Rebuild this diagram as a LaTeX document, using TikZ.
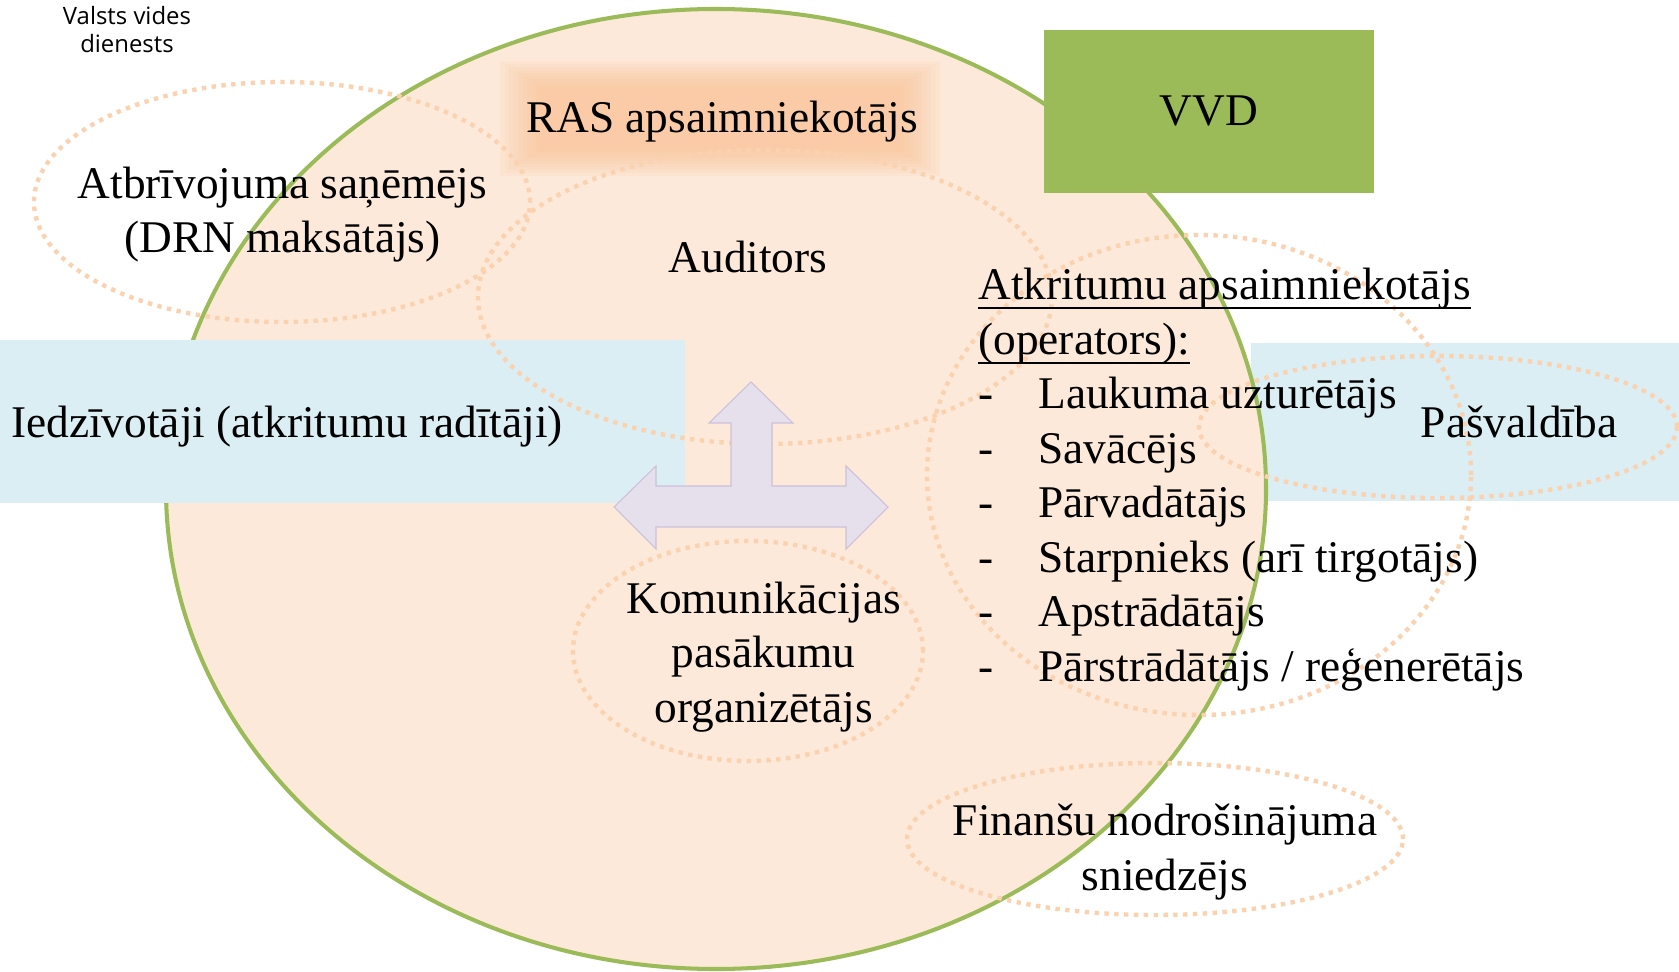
\documentclass[tikz,border=0pt]{standalone}
\usepackage{fontspec}
\setmainfont{Liberation Serif}
\newfontfamily\notefont{Open Sans}
\definecolor{peach}{HTML}{FDE9D9}
\definecolor{leafgreen}{HTML}{9BBB59}
\definecolor{paleblue}{HTML}{DAEEF3}
\definecolor{dotorange}{HTML}{FBD2B0}
\definecolor{glow}{HTML}{FAC090}
\definecolor{lilac}{HTML}{E5E0EC}
\definecolor{lilacline}{HTML}{CCC1DA}
\tikzset{
  oval/.style={draw=dotorange, line width=2.5pt, dash pattern=on 2.5pt off 3.1pt},
  lbl/.style={font=\fontsize{25.8}{31}\selectfont, inner sep=0pt, anchor=base},
  band/.style={fill=paleblue, draw=none},
}
\newsavebox\ulbox
\newcommand{\undl}[1]{\sbox\ulbox{#1}\rlap{\rule[-0.2em]{\wd\ulbox}{0.045em}}\usebox\ulbox}
\begin{document}
\begin{tikzpicture}
            \useasboundingbox (0, 0) rectangle (33.58, 19.42);
            %fasce e aplis
            \fill[band] (25.02, 9.40) rectangle (33.58, 12.56);
            \draw[fill=peach, draw=leafgreen, line width=2.3pt] (14.32, 9.64) ellipse [x radius=11.0, y radius=9.6];
            \fill[band] (0, 9.36) rectangle (13.7, 12.62);
            \node[fill=leafgreen, minimum width=6.6cm, minimum height=3.26cm, font=\fontsize{25.8}{31}\selectfont] (vvd) at (24.18, 17.19) {VVD};
            \foreach \d in {0,1,...,9}
              \fill[glow, opacity=0.1] (10.0+\d*0.09, 15.9+\d*0.06) rectangle (18.8-\d*0.09, 18.2-\d*0.06);
            %ovali
            \draw[oval] (5.64, 15.38) ellipse [x radius=4.96, y radius=2.4];
            \draw[oval] (15.3, 13.48) ellipse [x radius=5.74, y radius=2.94];
            \draw[oval] (23.98, 9.92) ellipse [x radius=5.44, y radius=4.8];
            \draw[oval] (28.76, 10.88) ellipse [x radius=4.78, y radius=1.42];
            \draw[oval] (14.96, 6.4) ellipse [x radius=3.5, y radius=2.2];
            \draw[oval] (23.1, 2.64) ellipse [x radius=4.96, y radius=1.52];
            %bulta
            \draw[fill=lilac, draw=lilacline, line width=0.6pt] (12.28, 9.28) -- (13.12, 10.10) -- (13.12, 9.70) -- (14.62, 9.70)
              -- (14.62, 10.96) -- (14.18, 10.96) -- (15.02, 11.78) -- (15.86, 10.96) -- (15.44, 10.96) -- (15.44, 9.70)
              -- (16.92, 9.70) -- (16.92, 10.10) -- (17.76, 9.28) -- (16.92, 8.44) -- (16.92, 8.88) -- (13.12, 8.88)
              -- (13.12, 8.44) -- cycle;
            %teksti
            \node[font=\notefont\fontsize{13.6}{16.2}\selectfont, align=center, anchor=base, inner sep=0pt] (vvdnote) at (2.54, 18.36) {Valsts vides\\dienests};
            \node[lbl] (ras) at (14.44, 16.76) {RAS apsaimniekotājs};
            \node[lbl, align=center] (drn) at (5.65, 14.36) {Atbrīvojuma saņēmējs\\(DRN maksātājs)};
            \node[lbl] (audit) at (14.96, 13.96) {Auditors};
            \node[lbl] (iedz) at (5.74, 10.66) {Iedzīvotāji (atkritumu radītāji)};
            \node[lbl] (pasv) at (30.38, 10.66) {Pašvaldība};
            \node[lbl, align=center] (komun) at (15.27, 4.98) {Komunikācijas\\pasākumu\\organizētājs};
            \node[lbl, align=center] (finans) at (23.3, 1.62) {Finanšu nodrošinājuma\\sniedzējs};
            \node[lbl, anchor=base west] (ophead) at (19.56, 13.42) {\undl{Atkritumu apsaimniekotājs}};
            \node[lbl, anchor=base west] (opsub) at (19.56, 12.33) {\undl{(operators):}};
            \foreach \t [count=\i] in {Laukuma uzturētājs, Savācējs, Pārvadātājs, Starpnieks (arī tirgotājs), Apstrādātājs, Pārstrādātājs / reģenerētājs}{
              \node[lbl, anchor=base west] (dash\i) at (19.56, 12.33-\i*1.09) {-};
              \node[lbl, anchor=base west] (op\i) at (20.76, 12.33-\i*1.09) {\t};
            }
        \end{tikzpicture}
\end{document}
